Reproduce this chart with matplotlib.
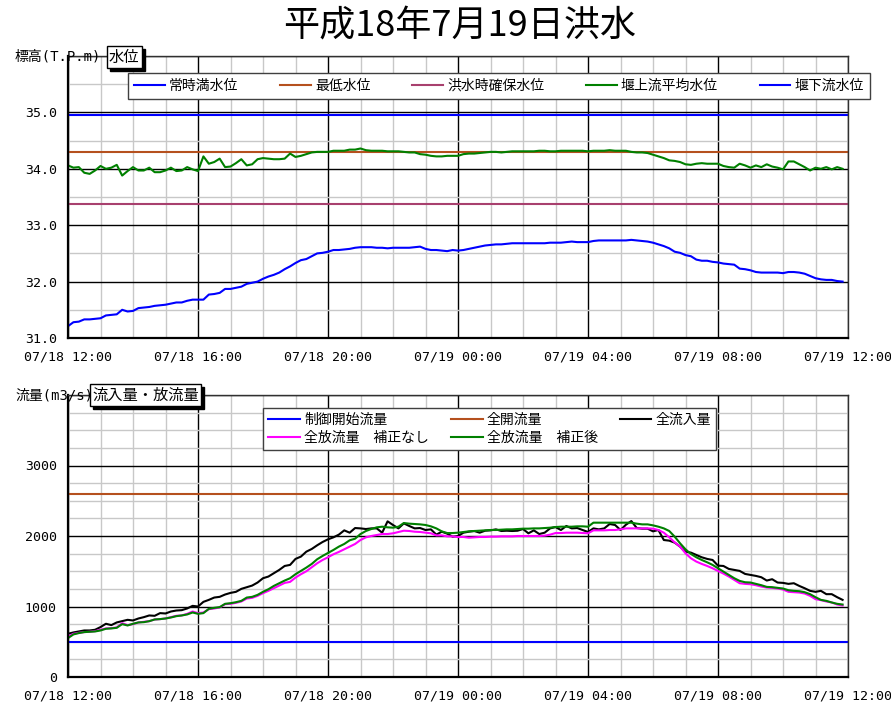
import numpy as np
import pandas as pd
import matplotlib
matplotlib.use("Agg")
import matplotlib.pyplot as plt
import matplotlib.dates as mdates
from matplotlib.ticker import MultipleLocator
from matplotlib.patches import Rectangle

plt.rcParams['font.family'] = ['Noto Sans CJK JP', 'DejaVu Sans']
MONO = ['DejaVu Sans Mono', 'Noto Sans CJK JP']

# ---------------- data ----------------
title = "平成18年7月19日洪水"
times = pd.date_range("2006-07-18 12:00", periods=144, freq="10min")

# water levels (T.P.m)
joji_mansui = 34.95          # 常時満水位
saitei_suii = 34.30          # 最低水位
kozui_kakuho = 33.38         # 洪水時確保水位

upstream_level = [  # 堰上流平均水位
    34.06, 34.02, 34.03, 33.93, 33.91, 33.97, 34.05, 34.00, 34.02, 34.07, 33.88, 33.96, 34.03,
    33.97, 33.97, 34.02, 33.94, 33.94, 33.97, 34.02, 33.96, 33.97, 34.03, 33.99, 33.96,
    34.22, 34.09, 34.12, 34.18, 34.03, 34.04, 34.10, 34.17, 34.06, 34.08, 34.17, 34.19,
    34.18, 34.17, 34.17, 34.18, 34.27, 34.21, 34.23, 34.26, 34.29, 34.30, 34.30, 34.30,
    34.32, 34.32, 34.32, 34.34, 34.34, 34.36, 34.33, 34.32, 34.32, 34.32, 34.31, 34.31,
    34.31, 34.30, 34.29, 34.29, 34.26, 34.25, 34.23, 34.22, 34.22, 34.23, 34.23, 34.23,
    34.26, 34.27, 34.27, 34.28, 34.29, 34.30, 34.30, 34.29, 34.30, 34.31, 34.31, 34.31,
    34.31, 34.31, 34.32, 34.32, 34.31, 34.31, 34.32, 34.32, 34.32, 34.32, 34.32, 34.31,
    34.32, 34.32, 34.32, 34.33, 34.32, 34.32, 34.32, 34.30, 34.29, 34.29, 34.28, 34.25,
    34.22, 34.19, 34.15, 34.14, 34.12, 34.08, 34.07, 34.09, 34.10, 34.09, 34.09, 34.09,
    34.05, 34.03, 34.02, 34.09, 34.06, 34.02, 34.06, 34.03, 34.08, 34.04, 34.02, 33.99,
    34.13, 34.13, 34.08, 34.03, 33.97, 34.02, 34.00, 34.03, 33.99, 34.03, 34.00,
]
downstream_level = [  # 堰下流水位
    31.21, 31.28, 31.29, 31.33, 31.33, 31.34, 31.35, 31.40, 31.41, 31.42, 31.50, 31.47, 31.48,
    31.53, 31.54, 31.55, 31.57, 31.58, 31.59, 31.61, 31.63, 31.63, 31.66, 31.68, 31.68,
    31.68, 31.77, 31.78, 31.80, 31.87, 31.87, 31.89, 31.91, 31.96, 31.98, 32.00, 32.05,
    32.09, 32.12, 32.16, 32.22, 32.27, 32.33, 32.38, 32.40, 32.45, 32.50, 32.51, 32.53,
    32.56, 32.56, 32.57, 32.58, 32.60, 32.61, 32.61, 32.61, 32.60, 32.60, 32.59, 32.60,
    32.60, 32.60, 32.60, 32.61, 32.62, 32.58, 32.56, 32.56, 32.55, 32.54, 32.56, 32.55,
    32.56, 32.58, 32.60, 32.62, 32.64, 32.65, 32.66, 32.66, 32.67, 32.68, 32.68, 32.68,
    32.68, 32.68, 32.68, 32.68, 32.69, 32.69, 32.69, 32.70, 32.71, 32.70, 32.70, 32.70,
    32.72, 32.73, 32.73, 32.73, 32.73, 32.73, 32.73, 32.74, 32.73, 32.72, 32.71, 32.69,
    32.66, 32.63, 32.59, 32.53, 32.51, 32.47, 32.45, 32.39, 32.37, 32.37, 32.35, 32.34,
    32.32, 32.31, 32.30, 32.23, 32.22, 32.20, 32.17, 32.16, 32.16, 32.16, 32.16, 32.15,
    32.17, 32.17, 32.16, 32.14, 32.10, 32.06, 32.04, 32.03, 32.03, 32.01, 32.00,
]

# discharges (m3/s)
seigyo_kaishi = 500    # 制御開始流量
zenkai = 2600          # 全開流量

inflow = [  # 全流入量
    613, 632, 646, 660, 660, 670, 708, 755, 736, 774, 792, 811, 802, 830, 849, 873, 868,
    906, 901, 929, 943, 948, 972, 1009, 1000,
    1066, 1094, 1127, 1137, 1170, 1193, 1208, 1250, 1274, 1297, 1340, 1401, 1425, 1472,
    1519, 1575, 1590, 1675, 1708, 1778, 1816, 1868, 1915, 1953,
    1981, 2019, 2080, 2047, 2113, 2108, 2099, 2108, 2108, 2047, 2208, 2156, 2108, 2179,
    2142, 2108, 2113, 2085, 2094, 2019, 2061, 2033, 1991, 2000,
    2047, 2061, 2071, 2047, 2075, 2080, 2094, 2071, 2075, 2071, 2075, 2099, 2038, 2080,
    2028, 2047, 2108, 2127, 2085, 2142, 2108, 2113, 2085, 2057, 2108, 2094, 2108, 2170,
    2156, 2085, 2160, 2212, 2113, 2104, 2104, 2066, 2085, 1943, 1934, 1906, 1849, 1778,
    1764, 1731, 1698, 1675, 1660, 1580, 1575, 1533, 1519, 1505, 1462, 1448, 1434, 1415,
    1368, 1387, 1340, 1335, 1321, 1330, 1292, 1259, 1222, 1208, 1222, 1175, 1175, 1132, 1094,
]
outflow_raw = [  # 全放流量 補正なし
    575, 613, 627, 637, 642, 651, 670, 689, 693, 703, 764, 736, 750, 774, 783, 792, 816,
    821, 830, 849, 868, 873, 896, 929, 906,
    915, 962, 972, 986, 1033, 1038, 1052, 1071, 1113, 1123, 1151, 1189, 1222, 1259, 1297,
    1335, 1349, 1410, 1458, 1500, 1557, 1613, 1660, 1698,
    1741, 1774, 1811, 1849, 1887, 1943, 1981, 2000, 2014, 2028, 2028, 2038, 2057, 2075,
    2071, 2061, 2057, 2047, 2038, 2009, 2009, 1995, 1995, 1986,
    1986, 1976, 1981, 1986, 1986, 1991, 1991, 1995, 1995, 1995, 2000, 2000, 2000, 2000,
    2000, 2005, 2019, 2042, 2042, 2047, 2047, 2047, 2042, 2038, 2080, 2080, 2080, 2085,
    2085, 2094, 2108, 2108, 2108, 2108, 2108, 2104, 2085, 2047, 1981, 1910, 1849, 1755,
    1684, 1637, 1604, 1575, 1542, 1505, 1467, 1425, 1377, 1330, 1321, 1316, 1302, 1283,
    1269, 1264, 1255, 1241, 1208, 1203, 1198, 1184, 1151, 1104, 1090, 1071, 1057, 1028, 1014,
]
outflow_corr = [  # 全放流量 補正後
    552, 604, 623, 637, 642, 646, 660, 684, 689, 698, 750, 731, 755, 774, 778, 792, 816,
    821, 830, 844, 863, 873, 887, 915, 896,
    906, 967, 981, 991, 1038, 1047, 1061, 1080, 1127, 1137, 1165, 1208, 1245, 1292, 1330,
    1368, 1401, 1458, 1505, 1552, 1604, 1670, 1717, 1759,
    1802, 1849, 1887, 1939, 1962, 2028, 2071, 2099, 2123, 2132, 2123, 2118, 2132, 2184,
    2175, 2170, 2165, 2156, 2137, 2108, 2066, 2042, 2042, 2047,
    2057, 2066, 2071, 2075, 2080, 2085, 2085, 2090, 2094, 2094, 2099, 2104, 2104, 2108,
    2108, 2113, 2118, 2127, 2132, 2132, 2132, 2137, 2137, 2132, 2189, 2189, 2189, 2189,
    2189, 2189, 2189, 2189, 2175, 2165, 2165, 2151, 2132, 2108, 2071, 1991, 1896, 1811,
    1745, 1698, 1660, 1627, 1590, 1542, 1495, 1448, 1401, 1363, 1344, 1340, 1321, 1302,
    1278, 1274, 1264, 1255, 1231, 1222, 1217, 1203, 1175, 1132, 1094, 1080, 1057, 1038, 1028,
]

level_ticks = [31, 32, 33, 34, 35, 36]
level_ticklabels = ["31.0", "32.0", "33.0", "34.0", "35.0", ""]
flow_ticks = [0, 1000, 2000, 3000, 4000]
flow_ticklabels = ["0", "1000", "2000", "3000", ""]

# ---------------- figure ----------------
W, H = 891, 706
fig = plt.figure(figsize=(W / 100, H / 100), dpi=100)


def fx(px):
    return px / W


def fy(py):
    return 1 - py / H


ax1 = fig.add_axes([fx(68), fy(338), fx(848) - fx(68), fy(56) - fy(338)])
ax2 = fig.add_axes([fx(68), fy(677), fx(848) - fx(68), fy(395) - fy(677)])

t0 = pd.Timestamp("2006-07-18 12:00")
t1 = pd.Timestamp("2006-07-19 12:00")

BLUE = "#0000ff"
BROWN = "#b5501e"
PURPLE = "#a8406e"
GREEN = "#008000"
MAGENTA = "#ff00ff"

lw = 1.5
h1 = ax1.axhline(joji_mansui, color=BLUE, lw=lw, label="常時満水位")
h2 = ax1.axhline(saitei_suii, color=BROWN, lw=lw, label="最低水位")
h3 = ax1.axhline(kozui_kakuho, color=PURPLE, lw=lw, label="洪水時確保水位")
h4, = ax1.plot(times, upstream_level, color=GREEN, lw=lw, label="堰上流平均水位")
h5, = ax1.plot(times, downstream_level, color=BLUE, lw=lw, label="堰下流水位")

g1 = ax2.axhline(seigyo_kaishi, color=BLUE, lw=lw, label="制御開始流量")
g2 = ax2.axhline(zenkai, color=BROWN, lw=lw, label="全開流量")
g3, = ax2.plot(times, inflow, color="black", lw=lw, label="全流入量")
g4, = ax2.plot(times, outflow_raw, color=MAGENTA, lw=lw, label="全放流量　補正なし")
g5, = ax2.plot(times, outflow_corr, color=GREEN, lw=lw, label="全放流量　補正後")

for ax in (ax1, ax2):
    ax.set_xlim(t0, t1)
    ax.xaxis.set_major_locator(mdates.HourLocator(byhour=[0, 4, 8, 12, 16, 20]))
    ax.xaxis.set_minor_locator(mdates.HourLocator())
    ax.xaxis.set_major_formatter(mdates.DateFormatter("%m/%d %H:%M"))
    ax.grid(which="minor", color="#c8c8c8", lw=1.0)
    ax.grid(which="major", color="black", lw=1.0)
    ax.set_axisbelow(True)
    ax.tick_params(which="both", length=0, labelsize=9.5)
    ax.tick_params(axis="x", pad=9)
    ax.tick_params(axis="y", pad=8)
    for lab in ax.get_xticklabels() + ax.get_yticklabels():
        lab.set_family(MONO)
    for s in ("left", "bottom"):
        ax.spines[s].set_linewidth(1.6)
        ax.spines[s].set_color("black")
    for s in ("top", "right"):
        ax.spines[s].set_linewidth(1.0)
        ax.spines[s].set_color("#303030")

ax1.set_ylim(31, 36)
ax1.set_yticks(level_ticks, labels=level_ticklabels)
ax1.yaxis.set_minor_locator(MultipleLocator(0.5))
ax2.set_ylim(0, 4000)
ax2.set_yticks(flow_ticks, labels=flow_ticklabels)
ax2.yaxis.set_minor_locator(MultipleLocator(250))
for ax in (ax1, ax2):
    for lab in ax.get_xticklabels() + ax.get_yticklabels():
        lab.set_family(MONO)

# title
fig.text(fx(460), fy(26), title, fontsize=26, ha="center", va="center")

# axis labels with shadowed boxes
boxed_texts = []


def boxed(xpx, ypx, s, size=11):
    t = fig.text(fx(xpx), fy(ypx), s, fontsize=size, ha="left", va="center", zorder=6,
                 bbox=dict(boxstyle="square,pad=0.15", fc="white", ec="black", lw=1))
    boxed_texts.append(t)


fig.text(fx(15), fy(57), "標高(T.P.m)", fontsize=10, ha="left", va="center", family=MONO)
boxed(109, 57, "水位")
fig.text(fx(15), fy(395), "流量(m3/s)", fontsize=10, ha="left", va="center", family=MONO)
boxed(92, 395, "流入量・放流量")

# legends
leg1 = fig.legend([h1, h2, h3, h4, h5], [h.get_label() for h in (h1, h2, h3, h4, h5)],
                  loc="center", ncol=5, mode="expand",
                  bbox_to_anchor=(fx(128), fy(102), fx(870) - fx(128), fy(70) - fy(102)),
                  fontsize=10, handlelength=2.2, handletextpad=0.3, borderpad=0.45,
                  borderaxespad=0, fancybox=False, framealpha=1, edgecolor="#404040")
leg1.get_frame().set_linewidth(1.0)

order = [g1, g4, g2, g5, g3]
leg2 = fig.legend(order, [h.get_label() for h in order],
                  loc="center", ncol=3, mode="expand",
                  bbox_to_anchor=(fx(263), fy(454), fx(716) - fx(263), fy(404) - fy(454)),
                  fontsize=10, handlelength=2.3, handletextpad=0.3, borderpad=0.35,
                  labelspacing=0.3, borderaxespad=0, fancybox=False, framealpha=1,
                  edgecolor="#404040")
leg2.get_frame().set_linewidth(1.0)

# shadows behind boxed labels
fig.canvas.draw()
renderer = fig.canvas.get_renderer()
for t in boxed_texts:
    bb = t.get_bbox_patch().get_window_extent(renderer)
    fig.add_artist(Rectangle((bb.x0 + 3, bb.y0 - 3), bb.width, bb.height,
                             transform=None, fc="black", ec="black", zorder=5))

fig.savefig("out.png", dpi=100)
